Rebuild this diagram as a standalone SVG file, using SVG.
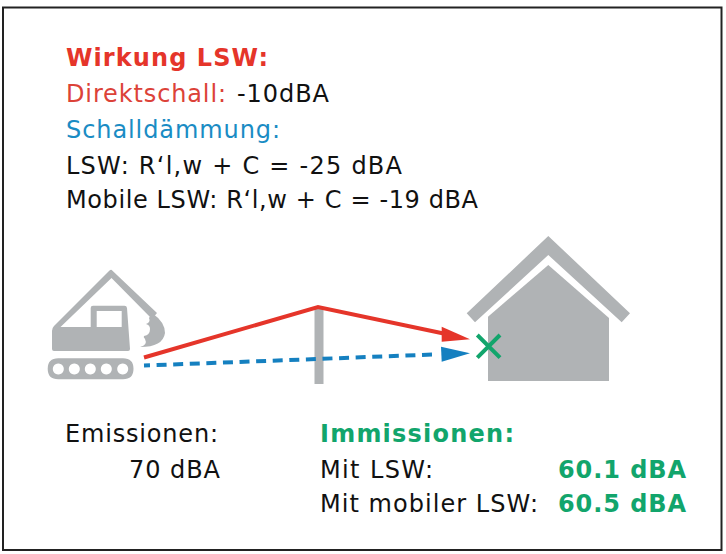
<svg xmlns="http://www.w3.org/2000/svg" width="726" height="554" viewBox="0 0 726 554">
<style>
text{font-family:"DejaVu Sans",Verdana,sans-serif;font-size:24px;fill:#111}
.b{font-weight:700}.red{fill:#e5352a}.red2{fill:#dc4238}.blue{fill:#1a8cc4}.green{fill:#12a56c}
.g{fill:#b0b3b5}
</style>
<rect x="3" y="7.500" width="718.500" height="542.500" fill="#fff" stroke="#222" stroke-width="2"/>
<g id="text-wirkung">
<text x="66" y="66" class="b red" textLength="202">Wirkung LSW:</text>
<text x="66" y="102" class="red2" textLength="160">Direktschall:</text>
<text x="237" y="102" textLength="92">-10dBA</text>
<text x="66" y="138" class="blue" textLength="214">Schalldämmung:</text>
<text x="66" y="174" textLength="336">LSW: R‘l,w + C = -25 dBA</text>
<text x="66" y="208" textLength="412">Mobile LSW: R‘l,w + C = -19 dBA</text>
</g>
<g id="excavator">
<path class="g" fill-rule="evenodd" d="M111.700 270L157 313L152 319L111.500 278L60.500 327H90.700V308Q90.700 305.700 93 305.700H124.500Q126.700 305.700 127 308L130 349Q130 351 128 351H54Q52 351 52 349V331Q52 328 54 326L109 271Q111 269 111.700 270ZM96.700 311V327H121.700V311Z"/>
<path class="g" d="M152 313Q165 322 165 333Q163 347 140 347Q148 345 145 339Q143 337 144 336Q150 335 150 329Q150 325 146 324Q151 322 149 318Z"/>
<path class="g" fill-rule="evenodd" d="M58.200 358.300H123Q133.500 358.300 133.500 368.800T123 379.300H58.200Q47.700 379.300 47.700 368.800T58.200 358.300ZM58.300 363.500a5.500 5.500 0 1 0 .01 0ZM74.300 363.500a5.500 5.500 0 1 0 .01 0ZM90.300 363.500a5.500 5.500 0 1 0 .01 0ZM106.300 363.500a5.500 5.500 0 1 0 .01 0ZM122.700 363.500a5.500 5.500 0 1 0 .01 0Z"/>
</g>
<g id="wall"><rect class="g" x="314.500" y="307" width="9" height="77"/></g>
<g id="house">
<path class="g" d="M548.300 236L630 313.300L621.700 322.300L548.300 255L475 322.300L466.700 313.300Z"/>
<path class="g" d="M548.300 265L609 318V381H488V316.700Z"/>
</g>
<g id="connectors">
<path d="M144 357.500L318 307L446 334" fill="none" stroke="#e5352a" stroke-width="4"/>
<path d="M441.700 326.700L470 339.300L441.700 341.700Z" fill="#e5352a"/>
<path d="M144 365.500L435 354.500" fill="none" stroke="#1580c0" stroke-width="4" stroke-dasharray="10 6.600" stroke-dashoffset="4"/>
<path d="M441 346.700L470 353.300L441.700 361.700Z" fill="#1580c0"/>
</g>
<g id="receiver"><path d="M477.300 335L500 357.700M500 335L477.300 357.700" fill="none" stroke="#12a56c" stroke-width="4"/></g>
<g id="emissionen">
<text x="65" y="442" textLength="153">Emissionen:</text>
<text x="129" y="478" textLength="91">70 dBA</text>
</g>
<g id="immissionen">
<text x="320" y="442" class="b green" textLength="194">Immissionen:</text>
<text x="320" y="478" textLength="113">Mit LSW:</text>
<text x="558" y="478" class="b green" textLength="128">60.1 dBA</text>
<text x="320" y="512" textLength="218">Mit mobiler LSW:</text>
<text x="558" y="512" class="b green" textLength="128">60.5 dBA</text>
</g>
</svg>
